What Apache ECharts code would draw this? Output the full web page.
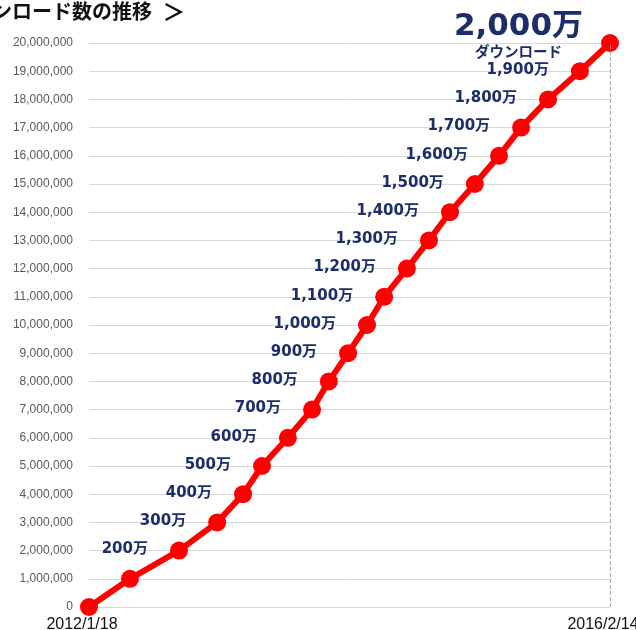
<!DOCTYPE html>
<html>
<head>
<meta charset="utf-8">
<script src="https://cdn.jsdelivr.net/npm/echarts@6/dist/echarts.min.js"></script>
<style>
html,body{margin:0;padding:0;background:#fff}
#main{width:636px;height:630px}
</style>
</head>
<body>
<div id="main"></div>
<script>
// 日付(累計ダウンロード到達日)
var dates = ['2012-01-18','2012-05-14','2012-10-01','2013-01-18','2013-04-02',
             '2013-05-26','2013-08-08','2013-10-16','2013-12-03','2014-01-27',
             '2014-03-22','2014-05-10','2014-07-14','2014-09-15','2014-11-14',
             '2015-01-24','2015-04-03','2015-06-05','2015-08-21','2015-11-20',
             '2016-02-14'];
var downloads = [0,1000000,2000000,3000000,4000000,5000000,6000000,7000000,8000000,9000000,
                 10000000,11000000,12000000,13000000,14000000,15000000,16000000,17000000,18000000,19000000,
                 20000000];
var pointLabels = ['','','200万','300万','400万','500万','600万','700万','800万','900万',
                   '1,000万','1,100万','1,200万','1,300万','1,400万','1,500万','1,600万','1,700万','1,800万','1,900万',
                   '2,000万'];
var subLabel = 'ダウンロード';
var xLabels = ['2012/1/18','2016/2/14'];
var titleText = 'ダウンロード数の推移';

var myChart = echarts.init(document.getElementById('main'));

function toTime(s) {
    return new Date(s + 'T00:00:00').getTime();
}
var xMin = toTime(dates[0]);
var xMax = toTime(dates[dates.length - 1]);

var labelFont = "'DejaVu Sans','Noto Sans CJK JP',sans-serif";
var seriesData = [];
for (var i = 0; i < dates.length; i++) {
    var item = {value: [toTime(dates[i]), downloads[i]]};
    if (i == dates.length - 1) {
        item.label = {
            show: true,
            position: 'left',
            distance: 18,
            offset: [0, -7],
            formatter: '{a|' + pointLabels[i] + '}\n{b|' + subLabel + '}',
            rich: {
                a: {fontSize: 31, fontWeight: 'bold', color: '#1b2d6b', fontFamily: labelFont, align: 'center', lineHeight: 30},
                b: {fontSize: 14.5, fontWeight: 'bold', color: '#1b2d6b', fontFamily: "'Noto Sans CJK JP',sans-serif", align: 'center', lineHeight: 18}
            }
        };
    } else if (pointLabels[i] == '') {
        item.label = {show: false};
    }
    seriesData.push(item);
}

var option = {
    animation: false,
    backgroundColor: '#ffffff',
    title: {
        text: '{t|' + titleText + '}{g|  ＞}',
        left: -48,
        top: 0,
        padding: 0,
        textStyle: {
            rich: {
                t: {fontFamily: "'Noto Sans CJK JP',sans-serif", fontSize: 20, fontWeight: 'bold', color: '#111111'},
                g: {fontFamily: "'Noto Sans CJK JP',sans-serif", fontSize: 23, fontWeight: 'bold', color: '#111111'}
            }
        }
    },
    grid: {left: 89, right: 26, top: 43, bottom: 23, outerBoundsMode: 'none', containLabel: false},
    xAxis: {
        type: 'value',
        min: xMin,
        max: xMax,
        axisLine: {show: false},
        axisTick: {show: false},
        splitLine: {show: false},
        axisLabel: {
            showMinLabel: true,
            showMaxLabel: true,
            margin: 10,
            padding: [0, 14, 0, 0],
            color: '#111111',
            fontSize: 16,
            fontFamily: "'Liberation Sans',Arial,sans-serif",
            formatter: function (val) {
                if (val == xMin) return xLabels[0];
                if (val == xMax) return xLabels[1];
                return '';
            }
        }
    },
    yAxis: {
        type: 'value',
        min: 0,
        max: 20000000,
        interval: 1000000,
        axisLine: {show: false},
        axisTick: {show: false},
        splitLine: {lineStyle: {color: '#d9d9d9', width: 1}},
        axisLabel: {
            margin: 16,
            color: '#595959',
            fontSize: 12,
            fontFamily: "'Liberation Sans',Arial,sans-serif",
            formatter: function (v) {
                return String(v).replace(/\B(?=(\d{3})+(?!\d))/g, ',');
            }
        }
    },
    series: [{
        type: 'line',
        data: seriesData,
        symbol: 'circle',
        symbolSize: 18,
        itemStyle: {color: '#ff0000'},
        lineStyle: {color: '#ff0000', width: 6},
        label: {
            show: true,
            position: 'left',
            distance: 22,
            offset: [0, -1],
            color: '#1b2d6b',
            fontSize: 15,
            fontWeight: 'bold',
            fontFamily: labelFont,
            formatter: function (p) { return pointLabels[p.dataIndex]; }
        },
        markLine: {
            silent: true,
            symbol: 'none',
            label: {show: false},
            lineStyle: {color: '#a6a6a6', type: 'dashed', width: 1},
            data: [{xAxis: xMax}]
        },
        z: 3
    }]
};
myChart.setOption(option);
</script>
</body>
</html>
